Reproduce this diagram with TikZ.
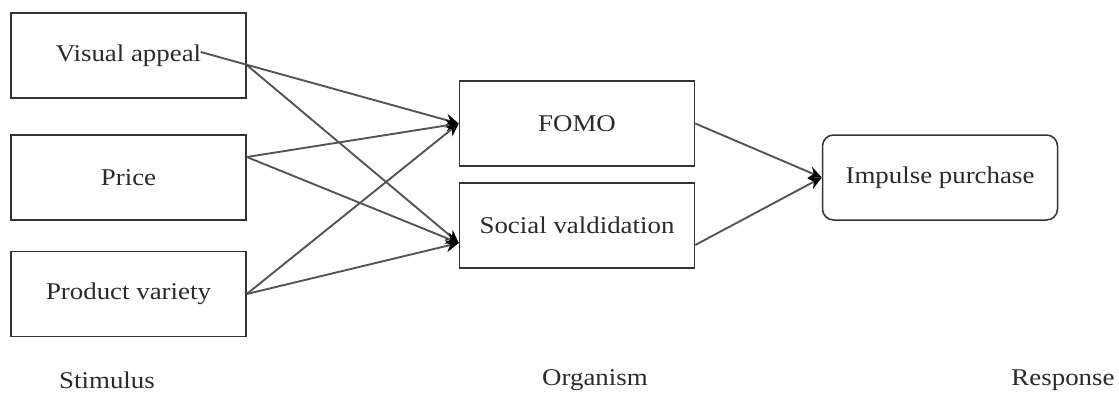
\documentclass[tikz,border=0pt]{standalone}
\usepackage{fontspec}
\setmainfont{Liberation Serif}[FakeStretch=1.12]
\usetikzlibrary{arrows.meta}
\definecolor{boxline}{HTML}{333333}
\definecolor{arrline}{HTML}{555555}
\definecolor{txt}{HTML}{2A2A2A}
\begin{document}
\begin{tikzpicture}[x=1pt,y=-1pt,
  box/.style={draw=boxline,line width=1.5pt,minimum width=235pt,minimum height=85pt,inner sep=0pt,text=txt,font=\fontsize{24}{28}\selectfont},
  rbox/.style={box,rounded corners=11pt},
  lbl/.style={text=txt,font=\fontsize{24}{28}\selectfont,inner sep=0pt},
  conn/.style={draw=arrline,line width=1.9pt,-{Stealth[length=13pt,width=12pt,fill=black,color=black]}}]
\useasboundingbox (0,0) rectangle (1119,392);
\node[box] (va) at (128.5,55.5) {Visual appeal};
\node[box] (pr) at (128.5,177.5) {Price};
\node[box] (pv) at (128.5,294) {Product variety};
\node[box] (fo) at (577,123.5) {FOMO};
\node[box] (sv) at (577,225.5) {Social valdidation};
\node[rbox] (ip) at (940,177.5) {Impulse purchase};
\node[lbl] (st) at (107,380) {Stimulus};
\node[lbl] (or) at (595,380) {Organism};
\node[lbl] (re) at (1063,380) {Response};
\coordinate (vastart) at ([xshift=-46pt,yshift=3.5pt]va.east);
\draw[conn] (vastart) -- (fo.west);
\draw[conn] ([yshift=-9.5pt]va.east) -- ([yshift=-17.5pt]sv.west);
\draw[conn] ([yshift=20.5pt]pr.east) -- (fo.west);
\draw[conn] ([yshift=20.5pt]pr.east) -- ([yshift=-17.5pt]sv.west);
\draw[conn] (pv.east) -- (fo.west);
\draw[conn] (pv.east) -- ([yshift=-17.5pt]sv.west);
\draw[conn] (fo.east) -- (ip.west);
\draw[conn] ([yshift=-19.5pt]sv.east) -- (ip.west);
\end{tikzpicture}
\end{document}
